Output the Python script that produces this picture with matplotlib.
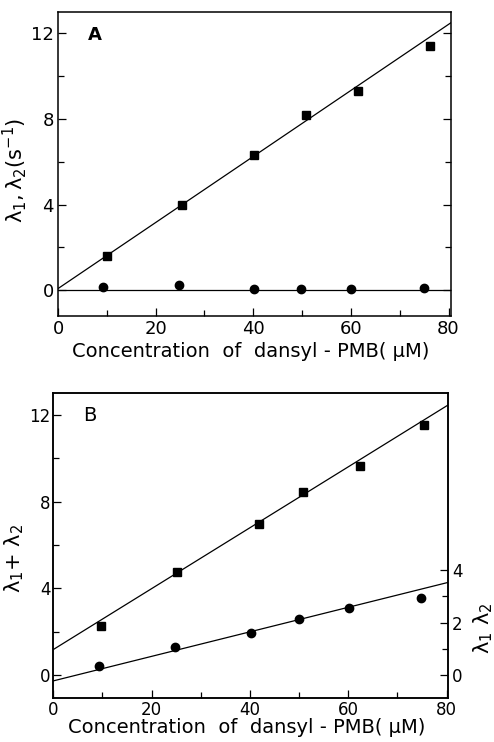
import matplotlib
matplotlib.use("Agg")
import matplotlib.pyplot as plt
from matplotlib.ticker import MultipleLocator, FixedLocator

plt.rcParams['font.family'] = ['DejaVu Sans']
plt.rcParams['mathtext.fontset'] = 'dejavusans'

# ---- Data: panel A ----
a_sq_x = [10.0, 25.3, 40.2, 50.8, 61.4, 76.1]
a_sq_y = [1.6, 4.0, 6.3, 8.2, 9.3, 11.4]
a_ci_x = [9.3, 24.8, 40.2, 49.8, 60.0, 74.9]
a_ci_y = [0.15, 0.25, 0.05, 0.05, 0.05, 0.1]
a_fit1_x = [0, 80.5]
a_fit1_y = [0.08, 12.5]
a_fit2_x = [0, 80.5]
a_fit2_y = [0.0, 0.0]

# ---- Data: panel B ----
b_sq_x = [9.7, 25.2, 41.8, 50.7, 62.4, 75.5]
b_sq_y = [2.27, 4.77, 6.95, 8.46, 9.66, 11.54]
b_ci_x = [9.35, 24.7, 40.3, 50.0, 60.1, 74.9]
b_ci_y = [0.34, 1.08, 1.6, 2.12, 2.56, 2.93]
b_fit1_x = [0, 80.3]
b_fit1_y = [1.18, 12.46]
b_fit2_x = [0, 80.3]
b_fit2_y = [-0.22, 3.53]

x_ticks = [0, 20, 40, 60, 80]
y_ticks = [0, 4, 8, 12]
y2_ticks = [0, 2, 4]
xlabel = "Concentration  of  dansyl - PMB( \u03bcM)"

W, H = 494, 742
fig = plt.figure(figsize=(W / 100, H / 100), dpi=100)

def px_axes(l, t, r, b):
    return fig.add_axes([l / W, 1 - b / H, (r - l) / W, (b - t) / H])

def style(ax, right=True, size=13, pad=3):
    ax.xaxis.set_major_locator(FixedLocator(x_ticks))
    ax.xaxis.set_minor_locator(MultipleLocator(10))
    ax.yaxis.set_major_locator(FixedLocator(y_ticks))
    ax.yaxis.set_minor_locator(MultipleLocator(2))
    ax.tick_params(which='both', direction='in', top=False, right=right,
                   labelsize=size, width=0.9, pad=pad)
    ax.tick_params(which='major', length=6)
    ax.tick_params(which='minor', length=4)
    for s in ax.spines.values():
        s.set_linewidth(1.1)

lw = 0.9
sq = dict(marker='s', ms=6, color='black', linestyle='none')
ci = dict(marker='o', ms=6, color='black', linestyle='none')

# Panel A
axA = px_axes(58, 12, 451, 316)
axA.plot(a_fit1_x, a_fit1_y, color='black', lw=lw)
axA.plot(a_fit2_x, a_fit2_y, color='black', lw=lw)
axA.plot(a_sq_x, a_sq_y, **sq)
axA.plot(a_ci_x, a_ci_y, **ci)
axA.set_xlim(0, 80.5)
axA.set_ylim(-1.2, 13)
style(axA)
axA.set_xlabel(xlabel, fontsize=14)
axA.xaxis.set_label_coords(0.49, -0.087)
axA.set_ylabel(r"$\mathregular{\lambda_1,\lambda_2(s^{-1})}$", fontsize=15)
axA.yaxis.set_label_coords(-0.074, 0.48)
axA.text(0.094, 0.924, "A", transform=axA.transAxes, fontsize=13,
         fontweight='bold', ha='center', va='center')

# Panel B
axB = px_axes(53.3, 392.7, 448, 698.3)
axB.plot(b_fit1_x, b_fit1_y, color='black', lw=lw)
axB.plot(b_sq_x, b_sq_y, **sq)
axB.set_xlim(0, 80.3)
axB.set_ylim(-1.07, 13.03)
style(axB, right=False, size=12, pad=2)
axB.set_xlabel(xlabel, fontsize=14)
axB.xaxis.set_label_coords(0.49, -0.064)
axB.set_ylabel(r"$\mathregular{\lambda_1}$+ $\mathregular{\lambda_2}$", fontsize=15)
axB.yaxis.set_label_coords(-0.068, 0.459)
axB.text(0.093, 0.924, "B", transform=axB.transAxes, fontsize=14,
         ha='center', va='center')

axB2 = axB.twinx()
axB2.plot(b_fit2_x, b_fit2_y, color='black', lw=lw)
axB2.plot(b_ci_x, b_ci_y, **ci)
r = 21.67 / 26.25
axB2.set_ylim(-1.07 * r, 13.03 * r)
axB2.yaxis.set_major_locator(FixedLocator(y2_ticks))
axB2.yaxis.set_minor_locator(FixedLocator([1, 3]))
axB2.tick_params(which='both', direction='in', labelsize=12, width=0.9, pad=3)
axB2.tick_params(which='major', length=6)
axB2.tick_params(which='minor', length=4)
axB2.set_ylabel(r"$\mathregular{\lambda_1}$ $\mathregular{\lambda_2}$", fontsize=15, rotation=90)
axB2.yaxis.set_label_coords(1.06, 0.23)
for s in axB2.spines.values():
    s.set_linewidth(1.1)

fig.savefig("out.png", dpi=100)
